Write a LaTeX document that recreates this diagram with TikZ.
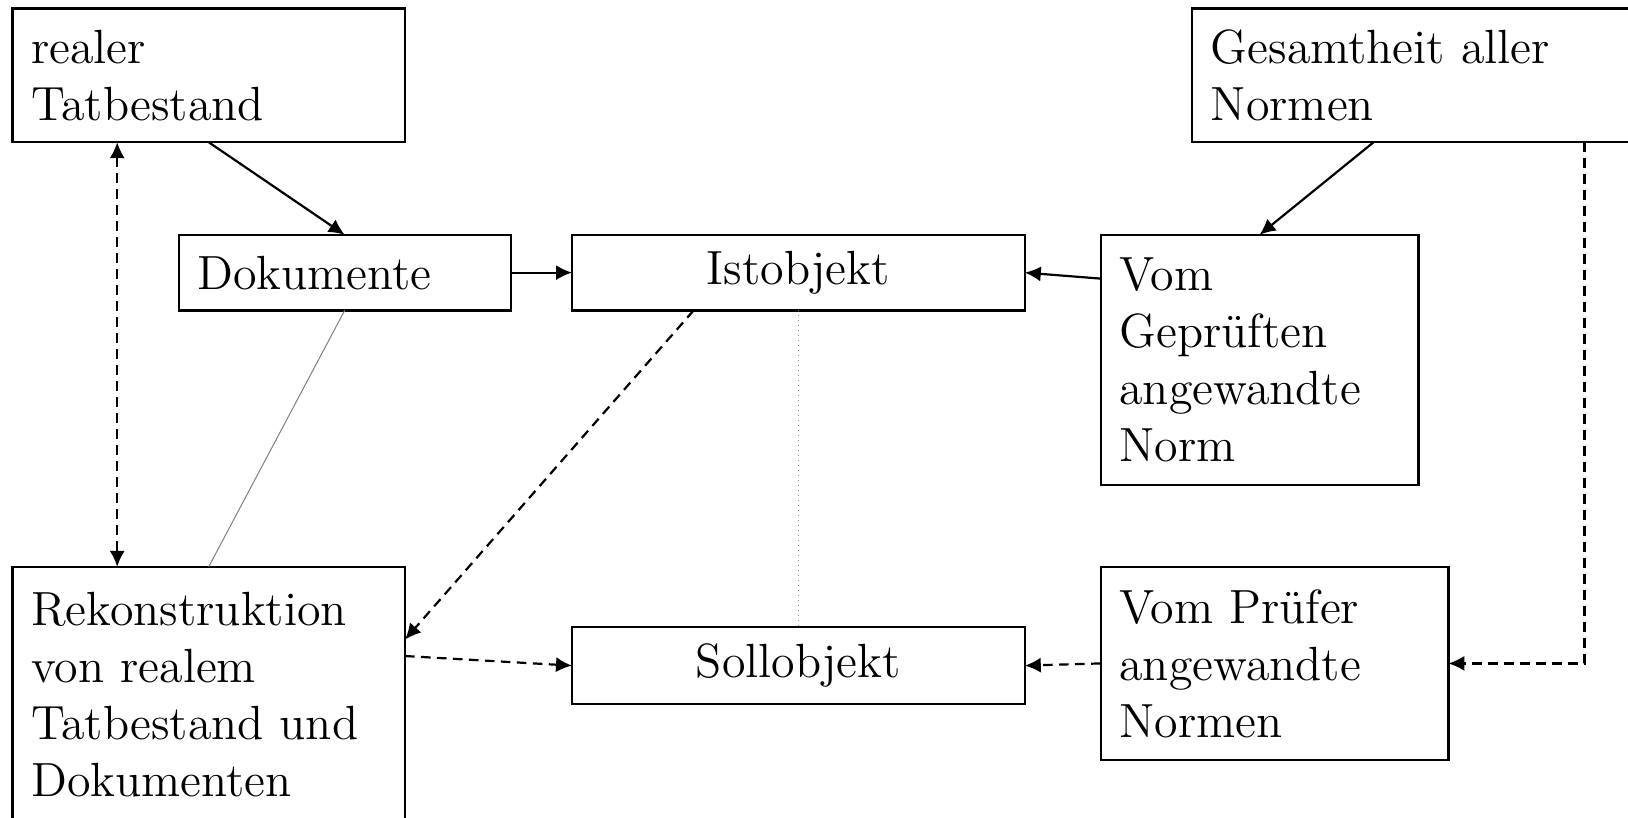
\documentclass[tikz,border=0pt]{standalone}
\usepackage{tikz}
\usetikzlibrary{arrows.meta, positioning}

\begin{document}
\begin{tikzpicture}[
    box/.style={rectangle, draw, line width=0.55pt, outer sep=0pt, inner xsep=4.7pt, inner ysep=0pt, align=left, font=\fontsize{12}{14.25}\selectfont},
    arrow/.style={-{Latex[length=4pt, width=3.8pt]}, line width=0.55pt},
    dasharrow/.style={arrow, dash pattern=on 2.4pt off 1.6pt},
    link/.style={gray, line width=0.25pt}
]
    \useasboundingbox (0,0) rectangle (407pt,-204.25pt);
    \clip (0,0) rectangle (407pt,-204.25pt);

    % Sachverhalt und Dokumente
    \node[box, anchor=north west, text width=88.75pt, minimum height=33.45pt] (realer) at (3.1pt,-2.1pt) {realer\\Tatbestand};
    \node[box, text width=73.65pt, minimum height=18.9pt, below right=23.15pt and 41.55pt of realer.south west] (dok) {Dokumente};
    \node[box, text width=103.8pt, minimum height=18.9pt, align=center, right=15.3pt of dok] (ist) {Istobjekt};

    % Normen
    \node[box, text width=110.6pt, minimum height=33.45pt, right=196.75pt of realer.north east, anchor=north west] (ges) {Gesamtheit aller\\Normen};
    \node[box, text width=70.05pt, minimum height=62.5pt, right=18.95pt of ist.north east, anchor=north west] (gep) {Vom\\Geprüften\\angewandte\\Norm};

    % untere Reihe
    \node[box, text width=88.75pt, minimum height=64pt, below=106.15pt of realer] (rek) {Rekonstruktion\\von realem\\Tatbestand und\\Dokumenten};
    \node[box, text width=103.8pt, minimum height=19.2pt, align=center, below=79.2pt of ist] (soll) {Sollobjekt};
    \node[box, text width=77.55pt, minimum height=48.3pt, below=20.5pt of gep.south west, anchor=north west] (pruef) {Vom Prüfer\\angewandte\\Normen};

    % Pfeile
    \draw[arrow] (realer.south) -- (dok.north);
    \draw[arrow] (dok) -- (ist);
    \draw[arrow] ([yshift=20.3pt]gep.west) -- (ist.east);
    \draw[arrow] ([xshift=45.4pt]ges.south west) -- (gep.north);
    \draw[dasharrow] ([xshift=98.1pt]ges.south west) |- (pruef.east);
    \draw[dasharrow] (pruef.west) -- (soll.east);
    \draw[dasharrow] ([yshift=9.7pt]rek.east) -- (soll.west);
    \draw[dasharrow] ([xshift=30.4pt]ist.south west) -- ([yshift=13.8pt]rek.east);
    \draw[dasharrow, {Latex[length=4pt, width=3.8pt]}-{Latex[length=4pt, width=3.8pt]}] ([xshift=26.2pt]realer.south west) -- ([xshift=26.2pt]rek.north west);

    % Verbindungen
    \draw[link] (dok.south) -- (rek.north);
    \draw[link, densely dotted] (ist.south) -- (soll.north);
\end{tikzpicture}
\end{document}
